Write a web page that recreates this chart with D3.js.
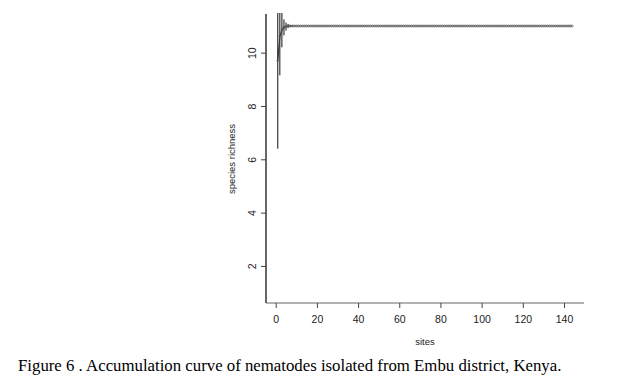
<!DOCTYPE html>
<html>
<head>
<meta charset="utf-8">
<script src="https://cdn.jsdelivr.net/npm/d3@7"></script>
<style>
body { margin: 0; background: #fff; }
svg text { font-family: "Liberation Sans", Arial, sans-serif; }
</style>
</head>
<body>
<svg width="627" height="383"></svg>
<script>
// mean species richness per number of sites, and its spread
var richness = [9.7, 10.6, 10.85, 10.95, 10.98, 11, 11, 11, 11, 11,
  11, 11, 11, 11, 11, 11, 11, 11, 11, 11, 11, 11, 11, 11, 11, 11, 11, 11, 11, 11,
  11, 11, 11, 11, 11, 11, 11, 11, 11, 11, 11, 11, 11, 11, 11, 11, 11, 11, 11, 11,
  11, 11, 11, 11, 11, 11, 11, 11, 11, 11, 11, 11, 11, 11, 11, 11, 11, 11, 11, 11,
  11, 11, 11, 11, 11, 11, 11, 11, 11, 11, 11, 11, 11, 11, 11, 11, 11, 11, 11, 11,
  11, 11, 11, 11, 11, 11, 11, 11, 11, 11, 11, 11, 11, 11, 11, 11, 11, 11, 11, 11,
  11, 11, 11, 11, 11, 11, 11, 11, 11, 11, 11, 11, 11, 11, 11, 11, 11, 11, 11, 11,
  11, 11, 11, 11, 11, 11, 11, 11, 11, 11, 11, 11, 11, 11];
var spread = [3.3, 1.45, 0.65, 0.3, 0.15, 0.08, 0.04, 0.02];
var xTicks = [0, 20, 40, 60, 80, 100, 120, 140];
var yTicks = [2, 4, 6, 8, 10];

var sites = d3.range(1, richness.length + 1);
var data = sites.map(function(s, i) {
  return { site: s, mean: richness[i], sd: spread[i] || 0 };
});

var svg = d3.select('svg');

var pLeft = 266, pRight = 584, pTop = 14, pBottom = 303;
var x = d3.scaleLinear().domain([-4.72, 149.72]).range([pLeft, pRight]);
var y = d3.scaleLinear().domain([0.61, 11.45]).range([pBottom, pTop]);

svg.append('clipPath').attr('id', 'plot')
  .append('rect')
  .attr('x', pLeft).attr('y', pTop - 1)
  .attr('width', pRight - pLeft).attr('height', pBottom - pTop + 1);

var plot = svg.append('g').attr('clip-path', 'url(#plot)');

// error bars
plot.selectAll('.bar')
  .data(data.filter(function(d) { return d.sd > 0; }))
  .enter()
  .append('line')
  .attr('class', 'bar')
  .attr('x1', function(d) { return x(d.site); })
  .attr('x2', function(d) { return x(d.site); })
  .attr('y1', function(d) { return y(d.mean - d.sd); })
  .attr('y2', function(d) { return y(d.mean + d.sd); })
  .attr('stroke', '#111')
  .attr('stroke-width', 1);

plot.append('path')
  .datum(data)
  .attr('fill', 'none')
  .attr('stroke', '#333')
  .attr('stroke-width', 1.2)
  .attr('d', d3.line()
    .x(function(d) { return x(d.site); })
    .y(function(d) { return y(d.mean); }));

plot.selectAll('.pt')
  .data(data)
  .enter()
  .append('circle')
  .attr('class', 'pt')
  .attr('cx', function(d) { return x(d.site); })
  .attr('cy', function(d) { return y(d.mean); })
  .attr('r', 1.1)
  .attr('fill', 'none')
  .attr('stroke', '#666')
  .attr('stroke-width', 0.6);

// box (L shape)
svg.append('line')
  .attr('x1', pLeft).attr('x2', pLeft).attr('y1', pTop).attr('y2', pBottom)
  .attr('stroke', '#000').attr('stroke-width', 1.2);
svg.append('line')
  .attr('x1', pLeft).attr('x2', pRight).attr('y1', pBottom).attr('y2', pBottom)
  .attr('stroke', '#666').attr('stroke-width', 1);

// x axis
var gx = svg.append('g')
  .attr('transform', 'translate(0,' + pBottom + ')')
  .call(d3.axisBottom(x).tickValues(xTicks).tickSize(5).tickPadding(8));
gx.select('.domain').remove();
gx.selectAll('.tick line').attr('stroke', '#444');
gx.selectAll('.tick text').attr('font-size', 10.5).attr('fill', '#222')
  .style('font-family', '"Liberation Sans", Arial, sans-serif');

// y axis
var gy = svg.append('g')
  .attr('transform', 'translate(' + pLeft + ',0)')
  .call(d3.axisLeft(y).tickValues(yTicks).tickSize(5).tickFormat(d3.format('d')));
gy.select('.domain').remove();
gy.selectAll('.tick line').attr('stroke', '#444');
gy.selectAll('.tick text')
  .attr('font-size', 10.5).attr('fill', '#222')
  .attr('x', null)
  .attr('text-anchor', 'middle')
  .attr('transform', 'translate(-14,0) rotate(-90)')
  .attr('dy', '0.35em')
  .style('font-family', '"Liberation Sans", Arial, sans-serif');

// axis titles
svg.append('text')
  .attr('x', 425).attr('y', 345)
  .attr('text-anchor', 'middle')
  .attr('font-size', 9.5).attr('fill', '#222')
  .text('sites');

svg.append('text')
  .attr('transform', 'translate(235,159) rotate(-90)')
  .attr('text-anchor', 'middle')
  .attr('font-size', 9.5).attr('fill', '#222')
  .text('species richness');

// caption
svg.append('text')
  .attr('x', 18).attr('y', 371)
  .attr('font-size', 16.8).attr('fill', '#000')
  .style('font-family', '"Liberation Serif", "Times New Roman", serif')
  .text('Figure 6 . Accumulation curve of nematodes isolated from Embu district, Kenya.');
</script>
</body>
</html>
